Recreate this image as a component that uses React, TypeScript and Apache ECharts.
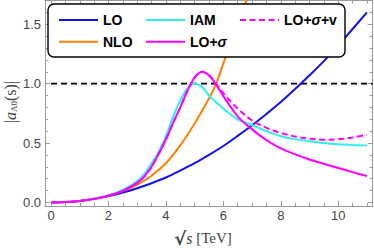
import React, { useEffect, useRef } from "react";
import * as echarts from "echarts";

const xMajor = [0, 2, 4, 6, 8, 10];
const xMinor = [0.5, 1, 1.5, 2.5, 3, 3.5, 4.5, 5, 5.5, 6.5, 7, 7.5, 8.5, 9, 9.5, 10.5, 11];
const yMajor = [0, 0.5, 1.0, 1.5];
const yMinor = [0.1, 0.2, 0.3, 0.4, 0.6, 0.7, 0.8, 0.9, 1.1, 1.2, 1.3, 1.4, 1.6];

const loData = [
  [0, 0], [0.5, 0.003], [1, 0.013], [1.5, 0.03], [2, 0.053], [2.5, 0.083], [3, 0.12],
  [3.5, 0.162], [4, 0.21], [4.5, 0.268], [5, 0.33], [5.5, 0.4], [6, 0.475], [6.5, 0.56],
  [7, 0.65], [7.5, 0.745], [8, 0.845], [8.5, 0.955], [9, 1.07], [9.5, 1.19], [10, 1.32],
  [10.5, 1.46], [11, 1.6],
];
const nloData = [
  [0, 0], [0.5, 0.003], [1, 0.013], [1.5, 0.031], [2, 0.057], [2.5, 0.095], [3, 0.15],
  [3.5, 0.225], [4, 0.33], [4.5, 0.48], [5, 0.665], [5.5, 0.875], [5.75, 1.0], [6, 1.17],
  [6.5, 1.5], [7, 1.83],
];
const iamData = [
  [0, 0], [0.5, 0.003], [1, 0.013], [1.5, 0.032], [2, 0.06], [2.5, 0.105], [3, 0.18],
  [3.25, 0.24], [3.5, 0.33], [3.75, 0.43], [4, 0.56], [4.25, 0.72], [4.5, 0.86], [4.75, 0.96],
  [5, 1.0], [5.25, 0.975], [5.5, 0.9], [6, 0.79], [6.5, 0.7], [7, 0.652], [7.5, 0.6],
  [8, 0.557], [8.5, 0.533], [9, 0.515], [9.5, 0.5], [10, 0.49], [10.5, 0.484], [11, 0.479],
];
const loSigmaData = [
  [0, 0], [0.5, 0.003], [1, 0.013], [1.5, 0.03], [2, 0.057], [2.5, 0.098], [3, 0.165],
  [3.25, 0.22], [3.5, 0.3], [3.75, 0.41], [4, 0.53], [4.25, 0.67], [4.5, 0.8], [4.75, 0.94],
  [5, 1.05], [5.25, 1.1], [5.5, 1.07], [5.75, 0.99], [6, 0.895], [6.5, 0.725], [7, 0.615],
  [7.5, 0.525], [8, 0.455], [8.5, 0.405], [9, 0.362], [9.5, 0.325], [10, 0.29], [10.5, 0.255],
  [11, 0.222],
];
const loSigmaVData = [
  [5.5, 1.07], [5.75, 1.0], [6, 0.92], [6.5, 0.79], [7, 0.69], [7.5, 0.628], [8, 0.585],
  [8.5, 0.555], [9, 0.537], [9.5, 0.528], [10, 0.532], [10.5, 0.547], [11, 0.57],
];
const unitarityLine = [[0, 1], [11.2, 1]];

const X_MIN = -0.21;
const X_MAX = 11.2;
const Y_MIN = -0.03;
const Y_MAX = 1.7;

const FRAME = "#9a9a9a";
const LABEL = "#444";

function axisPair(kind: "x" | "y", position: string, major: number[], minor: number[], showLabels: boolean) {
  const range = kind === "x" ? { min: X_MIN, max: X_MAX } : { min: Y_MIN, max: Y_MAX };
  const base = {
    type: "value",
    position,
    ...range,
    splitLine: { show: false },
    axisLine: { show: true, onZero: false, lineStyle: { color: FRAME, width: 1 } },
  };
  return [
    {
      ...base,
      axisTick: { show: true, inside: true, length: 5, customValues: major, lineStyle: { color: FRAME } },
      axisLabel: {
        show: showLabels,
        customValues: major,
        color: LABEL,
        fontFamily: "Liberation Sans",
        fontSize: 13,
        margin: kind === "x" ? 3 : 4,
        formatter: kind === "x" ? (v: number) => String(v) : (v: number) => v.toFixed(1),
      },
    },
    {
      ...base,
      axisTick: { show: true, inside: true, length: 3, customValues: minor, lineStyle: { color: FRAME } },
      axisLabel: { show: false },
    },
  ];
}

export default function App() {
  const ref = useRef<HTMLDivElement>(null);
  useEffect(() => {
    if (!ref.current) return;
    const chart = echarts.init(ref.current, undefined, { renderer: "svg" });
    const lineSeries = (name: string, data: number[][], color: string, dashed = false) => ({
      name,
      type: "line",
      data,
      xAxisIndex: 0,
      yAxisIndex: 0,
      smooth: 0.35,
      symbol: "none",
      clip: true,
      lineStyle: { color, width: 2, type: dashed ? [6, 3.5] : "solid" },
      itemStyle: { color },
      z: 3,
    });
    const legendText = {
      fontFamily: "Liberation Sans",
      fontWeight: "bold",
      fontSize: 14,
      color: "#000",
      rich: {
        g: { fontFamily: "Liberation Sans", fontWeight: "bold", fontStyle: "italic", fontSize: 14, color: "#000" },
      },
    };
    const legendFmt = (name: string) => name.replace("σ", "{g|σ}");
    const legendCommon = {
      orient: "vertical",
      top: 13,
      padding: 0,
      itemWidth: 39,
      itemHeight: 14,
      itemGap: 7.7,
      selectedMode: false,
      textStyle: legendText,
      formatter: legendFmt,
      itemStyle: { opacity: 0 },
      z: 20,
    };
    const option: any = {
      animation: false,
      grid: { left: 45, right: 1.3, top: 0.5, bottom: 42 },
      xAxis: [
        ...axisPair("x", "bottom", xMajor, xMinor, true),
        ...axisPair("x", "top", xMajor, xMinor, false),
      ],
      yAxis: [
        ...axisPair("y", "left", yMajor, yMinor, true),
        ...axisPair("y", "right", yMajor, yMinor, false),
      ],
      legend: [
        { ...legendCommon, left: 58, data: ["LO", "NLO"] },
        { ...legendCommon, left: 145, data: ["IAM", "LO+σ"] },
        { ...legendCommon, left: 239, data: ["LO+σ+v"] },
      ],
      series: [
        {
          name: "unitarity",
          type: "line",
          data: unitarityLine,
          symbol: "none",
          lineStyle: { color: "#000", width: 1.6, type: [6, 4] },
          z: 2,
        },
        lineSeries("LO", loData, "#1010f0"),
        lineSeries("NLO", nloData, "#ff8000"),
        lineSeries("IAM", iamData, "#33eeee"),
        lineSeries("LO+σ+v", [...loSigmaData.filter((p) => p[0] < 5.5), ...loSigmaVData], "#ff00ff", true),
        lineSeries("LO+σ", loSigmaData, "#ff00ff"),
      ],
      graphic: [
        {
          type: "rect",
          z: 10,
          shape: { x: 48, y: 4, width: 297, height: 53, r: 6 },
          style: { fill: "#fff", stroke: "#000", lineWidth: 1.4 },
        },
        {
          type: "text",
          x: 10,
          y: 102,
          rotation: Math.PI / 2,
          z: 10,
          style: {
            text: "|{it|a}{sub|A0}(s)|",
            fontFamily: "Liberation Serif",
            fontSize: 16,
            fill: "#444",
            align: "center",
            verticalAlign: "middle",
            rich: {
              it: { fontFamily: "Liberation Serif", fontStyle: "italic", fontSize: 16, fill: "#444" },
              sub: { fontFamily: "Liberation Serif", fontSize: 9, padding: [7, 0, 0, 0], fill: "#444" },
            },
          },
        },
        {
          type: "text",
          x: 203,
          y: 238,
          z: 10,
          style: {
            text: "{r|√}{it|s} [TeV]",
            fontFamily: "Liberation Serif",
            fontSize: 15,
            fill: "#444",
            align: "center",
            verticalAlign: "middle",
            rich: {
              r: { fontFamily: "DejaVu Sans", fontSize: 18, fontWeight: "bold", fill: "#444" },
              it: { fontFamily: "Liberation Serif", fontStyle: "italic", fontSize: 16, fill: "#444" },
            },
          },
        },
      ],
    };
    chart.setOption(option);
    return () => chart.dispose();
  }, []);
  return <div ref={ref} style={{ width: 374, height: 248, position: "absolute", left: 0, top: 0 }} />;
}
